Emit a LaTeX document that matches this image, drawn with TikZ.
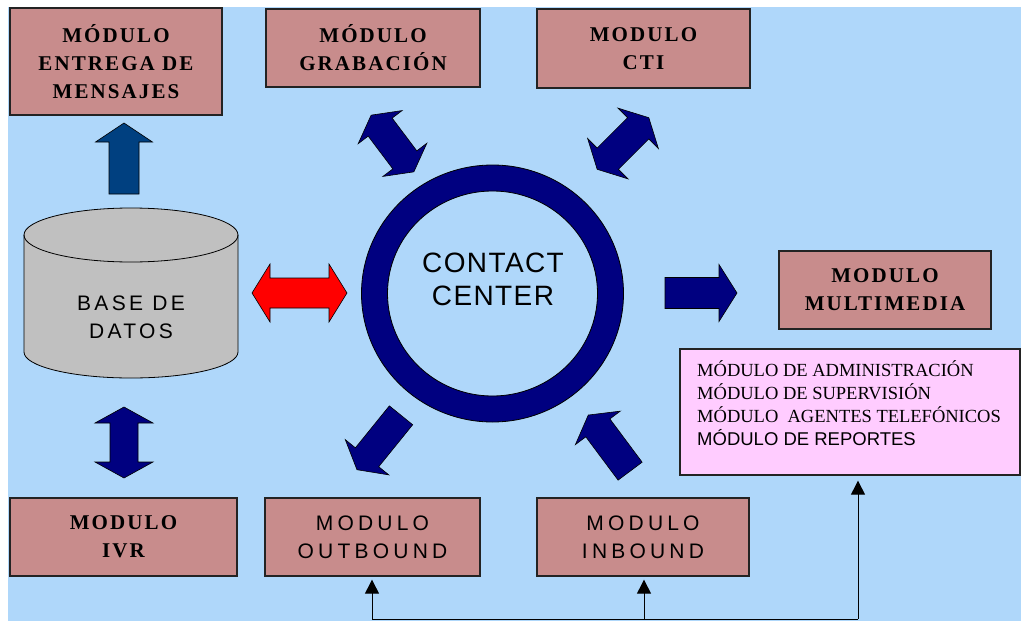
\documentclass[tikz,border=0pt]{standalone}
\usepackage{fontspec}
\setmainfont{Liberation Serif}
\newfontfamily\capserif[LetterSpace=10]{Liberation Serif}
\newfontfamily\capsans[LetterSpace=20]{Liberation Sans}
\newfontfamily\dbsans[LetterSpace=16]{Liberation Sans}
\newfontfamily\ccsans[LetterSpace=5]{Liberation Sans}
\newfontfamily\plainsans{Liberation Sans}
\usetikzlibrary{arrows.meta}

\definecolor{bgblue}{RGB}{175,215,250}
\definecolor{boxfill}{RGB}{200,140,140}
\definecolor{boxline}{RGB}{35,35,35}
\definecolor{pinkfill}{RGB}{255,204,255}
\definecolor{navyblue}{RGB}{0,0,128}
\definecolor{steelblue}{RGB}{0,64,128}
\definecolor{cylgray}{RGB}{192,192,192}

\tikzset{
  modbox/.style={draw=boxline, line width=1.3pt, fill=boxfill, inner sep=0pt, align=center},
  serifcaps/.style={font={\capserif\bfseries\fontsize{21}{28}\selectfont}},
  sanscaps/.style={font={\capsans\fontsize{21}{28}\selectfont}},
  blockarrow/.style={fill=navyblue, draw=black, line width=0.6pt, line join=miter},
  link/.style={draw=black, line width=1pt, -{Triangle[length=14pt,width=14pt]}},
  % double-headed block arrow: length, shaft half width, head half width, head length
  pics/dblarrow/.style n args={4}{code={
    \path[pic actions] ({-#1/2},0) -- ({-#1/2+#4},{#3}) -- ({-#1/2+#4},{#2})
      -- ({#1/2-#4},{#2}) -- ({#1/2-#4},{#3}) -- ({#1/2},0) -- ({#1/2-#4},{-#3})
      -- ({#1/2-#4},{-#2}) -- ({-#1/2+#4},{-#2}) -- ({-#1/2+#4},{-#3}) -- cycle;
  }},
  % single-headed block arrow pointing along +x
  pics/sglarrow/.style n args={4}{code={
    \path[pic actions] ({-#1/2},{#2}) -- ({#1/2-#4},{#2}) -- ({#1/2-#4},{#3})
      -- ({#1/2},0) -- ({#1/2-#4},{-#3}) -- ({#1/2-#4},{-#2}) -- ({-#1/2},{-#2}) -- cycle;
  }},
}

\begin{document}
\begin{tikzpicture}[x=1pt, y=1pt]
\useasboundingbox (0,0) rectangle (1021,-621);
\fill[white] (0,0) rectangle (1021,-621);
\fill[bgblue] (8,-7) rectangle (1021,-621);

% module boxes
\node[modbox, serifcaps, minimum width=212pt, minimum height=107pt] (entrega) at (116,-61.5) {MÓDULO\\ENTREGA DE\\MENSAJES};
\node[modbox, serifcaps, minimum width=214pt, minimum height=78pt] (grab) at (373,-48) {MÓDULO\\GRABACIÓN};
\node[modbox, serifcaps, minimum width=213pt, minimum height=79pt] (cti) at (643.5,-48.5) {MODULO\\CTI};
\node[modbox, serifcaps, minimum width=212pt, minimum height=78pt] (multi) at (885,-290) {MODULO\\MULTIMEDIA};
\node[modbox, serifcaps, minimum width=227pt, minimum height=78pt] (ivr) at (123.5,-537) {MODULO\\IVR};
\node[modbox, sanscaps, minimum width=215pt, minimum height=78pt] (outb) at (372.5,-537) {MODULO\\OUTBOUND};
\node[modbox, sanscaps, minimum width=212pt, minimum height=78pt] (inb) at (643,-537) {MODULO\\INBOUND};

% management modules panel
\node[draw=boxline, line width=1.3pt, fill=pinkfill, minimum width=340pt, minimum height=126pt] (pink) at (850,-412) {};
\node[anchor=north west, align=left, inner sep=0pt, font={\fontsize{18.5}{23.3}\selectfont}] (pinktext) at (697,-360)
  {MÓDULO DE ADMINISTRACIÓN\\MÓDULO DE SUPERVISIÓN\\MÓDULO \ AGENTES TELEFÓNICOS\\{\plainsans MÓDULO DE REPORTES}};

% database cylinder
\path[fill=cylgray, draw=black, line width=0.8pt] (24,-235) -- (24,-352)
  arc[start angle=180, end angle=360, x radius=107, y radius=26] -- (238,-235)
  arc[start angle=0, end angle=180, x radius=107, y radius=27] -- cycle;
\draw[black, line width=0.8pt] (24,-235) arc[start angle=180, end angle=360, x radius=107, y radius=27];
\node[font={\dbsans\fontsize{21}{28}\selectfont}, align=center] (db) at (131,-317) {BASE DE\\DATOS};

% contact center ring
\coordinate (rc) at (492.5,-293.5);
\path[fill=navyblue, draw=black, line width=0.8pt, even odd rule]
  (rc) ellipse[x radius=131, y radius=128.5] (rc) ellipse[x radius=105, y radius=102.5];
\node[font={\ccsans\fontsize{28}{33}\selectfont}, align=center] (cc) at (493,-279) {CONTACT\\CENTER};

% block arrows
\pic[blockarrow, fill=steelblue, rotate=90] at (124,-158.5) {sglarrow={71}{15}{28.5}{19}};
\pic[blockarrow, rotate=90] at (124,-442.5) {dblarrow={71}{14}{29}{16}};
\pic[blockarrow, fill=red] at (299.5,-293) {dblarrow={95}{15}{29}{18}};
\pic[blockarrow] at (701,-293) {sglarrow={72}{15.5}{28.5}{18}};
\pic[blockarrow, rotate=-53] at (392.5,-143.5) {dblarrow={71}{15}{27.5}{15}};
\pic[blockarrow, rotate=45] at (623,-143.5) {dblarrow={73}{15}{28.5}{15}};
\pic[blockarrow, rotate=231] at (379,-442.5) {sglarrow={70}{15}{28}{16}};
\pic[blockarrow, rotate=126.7] at (609.2,-443.1) {sglarrow={70}{15}{28}{16}};

% feed lines along the bottom
\coordinate (jout) at (372,-619);
\coordinate (jin) at (644,-619);
\coordinate (jpink) at (858,-619);
\draw[black, line width=1pt] (jout) -- (jpink);
\draw[link, shorten >=3pt] (jout) -- (jout |- outb.south);
\draw[link, shorten >=3pt] (jin) -- (jin |- inb.south);
\draw[link, shorten >=5pt] (jpink) -- (jpink |- pink.south);
\end{tikzpicture}
\end{document}
